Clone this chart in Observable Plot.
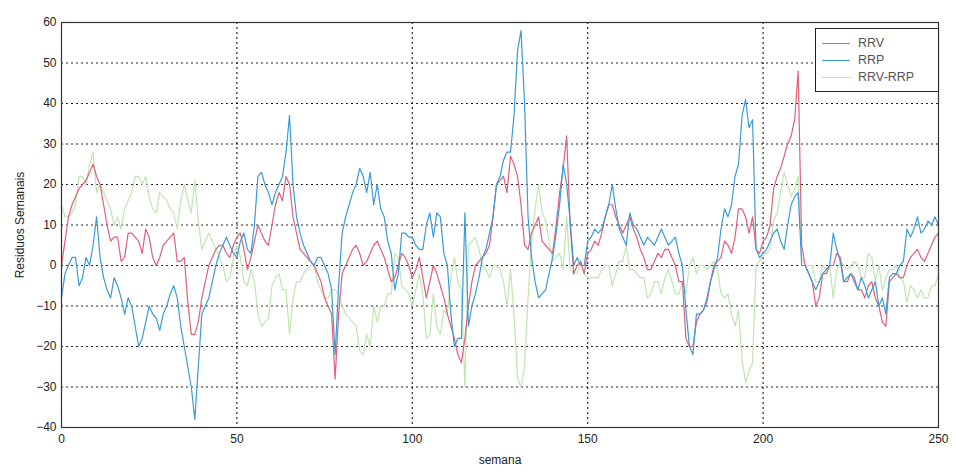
<!DOCTYPE html>
<html><head><meta charset="utf-8">
<script src="https://cdn.jsdelivr.net/npm/d3@7"></script>
<script src="https://cdn.jsdelivr.net/npm/@observablehq/plot@0.6"></script>
<style>
body{margin:0;background:#fff;font-family:"Liberation Sans",Arial,sans-serif;}
#wrap{position:relative;width:956px;height:472px;}
#legend{position:absolute;left:815px;top:28px;width:124px;height:64px;border:1px solid #222;background:#fff;font-size:12.5px;color:#555;box-sizing:border-box;}
.item{position:absolute;left:6px;height:16px;line-height:16px;}
.item span.sw{position:absolute;left:0;top:8px;width:28px;height:0;border-top:1.3px solid;}
.item span.tx{position:absolute;left:36px;top:0;white-space:nowrap;}
</style></head>
<body><div id="wrap"><div id="chart"></div><div id="legend"></div></div>
<script>
const semanas = d3.range(0, 251);
const seriesNames = ["RRV", "RRP", "RRV-RRP"];
const seriesColors = ["#e0607a", "#3c9bd6", "#bfe6b0"];
const RRV = [
  0,6,12,15,17,19,20,21,23,25,
  22,20,15,10,6,7,7,1,2,8,
  8,7,6,3,9,7,2,0,2,5,
  6,7,8,1,1,2,-9,-17,-17,-14,
  -8,-4,0,2,4,5,5,3,2,5,
  7,8,4,-1,2,6,10,8,6,5,
  10,15,18,16,22,20,12,8,4,3,
  2,1,0,-2,-4,-8,-10,-12,-28,-12,
  -2,0,2,4,5,3,0,1,3,5,
  6,4,2,-1,-4,-3,0,3,2,0,
  -3,-1,2,-3,-8,-4,0,-2,-5,-8,
  -12,-15,-18,-22,-24,-18,-10,-4,0,1,
  2,3,5,12,20,21,22,18,27,25,
  22,15,5,4,8,10,12,6,5,4,
  3,10,18,24,32,10,-2,0,1,-2,
  3,4,6,5,8,12,15,15,12,10,
  8,10,12,9,7,4,2,-1,-1,1,
  3,2,4,4,2,0,-4,-4,-18,-20,
  -20,-14,-12,-11,-9,-4,0,1,2,6,
  5,3,7,14,14,12,8,12,4,3,
  6,7,10,19,22,24,27,30,32,36,
  48,5,0,-2,-4,-10,-8,-2,-2,0,
  0,3,2,-4,-4,-2,-3,-6,-6,-8,
  -5,-4,-8,-10,-14,-15,-4,-3,-2,-3,
  -3,0,2,3,4,2,1,3,5,7,
  8];
const RRP = [
  -8,-2,0,2,2,-5,-3,2,0,5,
  12,2,-3,-6,-8,-3,-5,-8,-12,-8,
  -10,-15,-20,-18,-14,-10,-12,-13,-16,-12,
  -10,-7,-5,-8,-15,-20,-25,-30,-38,-25,
  -12,-10,-8,-4,0,3,5,7,5,3,
  2,6,8,4,3,10,22,23,20,18,
  15,18,20,22,28,37,20,12,8,5,
  3,1,0,2,2,0,-2,-6,-22,-5,
  8,12,15,18,20,24,22,18,23,15,
  20,14,12,6,3,-6,-2,8,8,7,
  7,5,4,4,10,13,7,13,12,3,
  0,-12,-20,-18,-18,13,-15,-10,-7,-3,
  2,4,8,12,20,22,26,28,28,37,
  53,58,40,12,2,-4,-8,-7,-6,-2,
  2,8,15,25,20,11,0,2,0,0,
  6,7,9,8,9,12,15,20,14,9,
  7,5,13,10,9,7,5,7,6,5,
  7,9,7,5,6,7,3,0,-11,-20,
  -22,-12,-12,-11,-8,-4,-1,2,9,14,
  12,15,22,25,37,41,34,36,4,2,
  3,4,6,8,9,6,4,10,15,17,
  18,0,0,-2,-4,-6,-4,-2,-1,0,
  8,4,1,-4,-3,-2,-4,-6,-3,-5,
  -8,-6,-4,-10,-8,-12,-3,-2,-2,0,
  1,9,7,9,12,8,9,11,10,12,
  10];
const RRV_RRP = [
  15,12,12,13,15,22,22,20,25,28,
  18,20,18,16,14,10,12,9,14,16,
  18,22,22,20,22,17,14,13,18,17,
  16,14,13,9,16,20,16,13,21,11,
  4,6,8,6,4,2,0,-4,-3,2,
  5,2,-4,-5,-1,-4,-12,-15,-14,-13,
  -5,-3,-2,-6,-6,-17,-8,-4,-4,-2,
  -1,0,0,-4,-6,-8,-8,-6,-6,-7,
  -10,-12,-13,-14,-15,-21,-22,-17,-20,-10,
  -14,-10,-10,-7,-7,3,2,-5,-6,-7,
  -10,-6,-2,-7,-18,-17,-7,-15,-17,-11,
  -12,-3,2,-4,-6,-30,5,6,7,4,
  0,-1,-3,0,0,-1,-4,-10,-1,-12,
  -28,-30,-25,-8,6,14,20,13,11,6,
  1,2,3,-1,12,-1,-2,-2,1,-2,
  -3,-3,-3,-3,-1,0,0,-5,-2,1,
  1,5,-1,-1,-2,-3,-3,-8,-7,-4,
  -4,-7,-3,-1,-4,-7,-7,-4,-7,0,
  2,-2,0,0,-1,0,1,-1,-7,-8,
  -7,-12,-15,-11,-23,-29,-26,-24,0,1,
  3,3,4,11,13,18,23,20,17,19,
  22,2,0,0,0,-4,-4,0,-1,0,
  -8,-1,1,0,-1,0,1,0,-3,-3,
  3,2,-4,0,-6,-3,-1,-1,0,-3,
  -4,-9,-5,-6,-8,-6,-8,-8,-5,-5,
  -2];
const xTicks = [0,50,100,150,200,250];
const yTicks = [-40,-30,-20,-10,0,10,20,30,40,50,60];

const values = [RRV, RRP, RRV_RRP];
const rows = seriesNames.map((name, k) => semanas.map((w, i) => ({semana: w, valor: values[k][i], serie: name})));
const drawOrder = [2, 0, 1];

const plot = Plot.plot({
  width: 956, height: 472,
  marginLeft: 61, marginRight: 18, marginTop: 22, marginBottom: 45,
  style: {fontFamily: "Liberation Sans, Arial, sans-serif", fontSize: "12px", background: "#fff", color: "#222"},
  x: {domain: [0, 250]},
  y: {domain: [-40, 60]},
  marks: [
    Plot.gridX(xTicks.slice(1, -1), {stroke: "#000", strokeOpacity: 0.85, strokeDasharray: "2,3", strokeWidth: 1.2}),
    Plot.gridY(yTicks.slice(1, -1), {stroke: "#000", strokeOpacity: 0.85, strokeDasharray: "2,3", strokeWidth: 1.2}),
    ...drawOrder.map(k => Plot.line(rows[k], {x: "semana", y: "valor", stroke: seriesColors[k], strokeWidth: 1.2})),
    Plot.frame({stroke: "#333", strokeWidth: 1.2}),
    Plot.axisX(xTicks, {tickSize: 0, tickPadding: 7, label: "semana", labelAnchor: "center", labelArrow: "none", labelOffset: 36}),
    Plot.axisY(yTicks, {tickSize: 0, tickPadding: 5, label: "Residuos Semanais", labelAnchor: "center", labelArrow: "none", labelOffset: 46})
  ]
});
document.getElementById("chart").appendChild(plot);

const leg = document.getElementById("legend");
seriesNames.forEach((name, k) => {
  const it = document.createElement("div");
  it.className = "item";
  it.style.top = (6 + k * 17) + "px";
  it.style.width = "110px";
  const sw = document.createElement("span"); sw.className = "sw"; sw.style.borderTopColor = seriesColors[k];
  const tx = document.createElement("span"); tx.className = "tx"; tx.textContent = name;
  it.appendChild(sw); it.appendChild(tx); leg.appendChild(it);
});
</script></body></html>
